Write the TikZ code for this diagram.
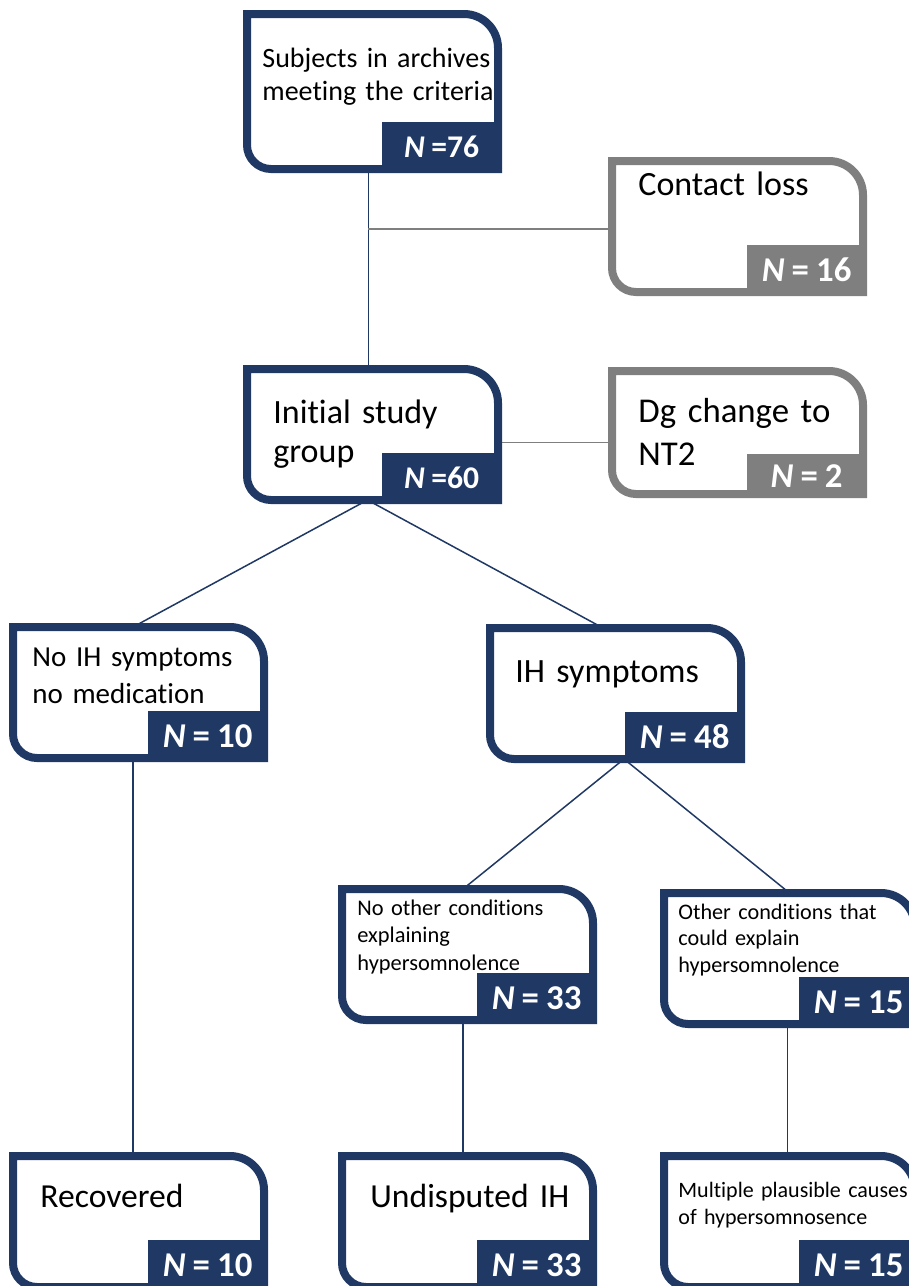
\documentclass[tikz,border=0pt]{standalone}
\usepackage{fontspec}
\setmainfont{Carlito}[Ligatures=NoCommon, WordSpace=0.9]
\definecolor{navy}{RGB}{32,56,100}
\definecolor{greyc}{RGB}{127,127,127}
\tikzset{box/.style = {rectangle, inner sep=0pt, outer sep=0pt, anchor=north west,
    minimum width=125.5pt, minimum height=65.5pt},
  boxline/.style = {line width=4pt},
  count/.style = {anchor=south east, inner sep=0pt, minimum width=60pt,
    minimum height=25.5pt, text=white, font=\bfseries\fontsize{17.4}{18}\selectfont},
  txt/.style = {anchor=base west, inner sep=0pt, text width=140pt, align=left},
  link/.style = {line width=.75pt, navy}}
\begin{document}
\begin{tikzpicture}[x=.5pt, y=-.5pt]
      \clip (0,0) rectangle (909,1286);
      \node[box, minimum height=77.5pt] (sub) at (247,14) {};
      \node[box] (loss) at (612,161) {};
      \node[box] (ini) at (247,369) {};
      \node[box, minimum height=61.5pt] (dg) at (612,371) {};
      \node[box] (noih) at (13,627) {};
      \node[box] (ih) at (490,628) {};
      \node[box] (nooth) at (342,889) {};
      \node[box] (oth) at (664,893) {};
      \node[box] (rec) at (13,1156) {};
      \node[box] (und) at (342,1156) {};
      \node[box] (mult) at (664,1156) {};
      \coordinate (split) at (368,229);
      \draw[link] ([xshift=-2pt]sub.south) -- ([xshift=-2pt]ini.north);
      \draw[link, greyc] (split) -- (split -| loss.west);
      \draw[link, greyc] ([yshift=-4pt]ini.east) -- ([yshift=-4pt]ini.east -| dg.west);
      \draw[link] ([xshift=-2.5pt]ini.south) -- ([xshift=-2.75pt]noih.north);
      \draw[link] ([xshift=-2.5pt]ini.south) -- ([xshift=-6.25pt]ih.north);
      \draw[link] ([xshift=4.25pt]ih.south) -- ([xshift=-2.25pt]nooth.north);
      \draw[link] ([xshift=4.25pt]ih.south) -- (oth.north);
      \draw[link] ([xshift=-2.75pt]noih.south) -- ([xshift=-2.75pt]rec.north);
      \draw[link] ([xshift=-2.25pt]nooth.south) -- ([xshift=-2.25pt]und.north);
      \draw[link] ([xshift=-1pt]oth.south) -- ([xshift=-1pt]mult.north);
      \foreach \b/\c in {sub/navy, ini/navy, noih/navy, ih/navy, nooth/navy, oth/navy,
          rec/navy, und/navy, mult/navy, loss/greyc, dg/greyc}
        \draw[boxline, \c] (\b.north west) -- ([xshift=-17pt]\b.north east)
          arc[start angle=90, end angle=0, radius=17pt] -- (\b.south east)
          -- ([xshift=12pt]\b.south west) arc[start angle=270, end angle=180, radius=12pt]
          -- cycle;
      \node[count, fill=navy, font=\bfseries\fontsize{15.8}{17}\selectfont] (sub-n)
        at ([xshift=2pt, yshift=-2pt]sub.south east) {\textit{N} =76};
      \node[count, fill=greyc] (loss-n) at ([xshift=2pt, yshift=-2pt]loss.south east) {\textit{N} = 16};
      \node[count, fill=navy, font=\bfseries\fontsize{15.8}{17}\selectfont] (ini-n)
        at ([xshift=2pt, yshift=-2pt]ini.south east) {\textit{N} =60};
      \node[count, fill=greyc, minimum height=22pt] (dg-n) at ([xshift=2pt, yshift=-2pt]dg.south east) {\textit{N} = 2};
      \node[count, fill=navy] (noih-n) at ([xshift=2pt, yshift=-2pt]noih.south east) {\textit{N} = 10};
      \node[count, fill=navy] (ih-n) at ([xshift=2pt, yshift=-2pt]ih.south east) {\textit{N} = 48};
      \node[count, fill=navy] (nooth-n) at ([xshift=2pt, yshift=-2pt]nooth.south east) {\textit{N} = 33};
      \node[count, fill=navy] (oth-n) at ([xshift=2pt, yshift=-2pt]oth.south east) {\textit{N} = 15};
      \node[count, fill=navy] (rec-n) at ([xshift=2pt, yshift=-2pt]rec.south east) {\textit{N} = 10};
      \node[count, fill=navy] (und-n) at ([xshift=2pt, yshift=-2pt]und.south east) {\textit{N} = 33};
      \node[count, fill=navy] (mult-n) at ([xshift=2pt, yshift=-2pt]mult.south east) {\textit{N} = 15};
      \node[txt, font=\fontsize{14}{16.5}\selectfont] (sub-t) at (262,67) {Subjects in archives\\meeting the criteria};
      \node[txt, font=\fontsize{17}{19.5}\selectfont] (loss-t) at (638,195) {Contact loss};
      \node[txt, font=\fontsize{17}{19.5}\selectfont] (ini-t) at (273,423) {Initial study\\group};
      \node[txt, font=\fontsize{17.4}{21.5}\selectfont] (dg-t) at (638,422) {Dg change to\\NT2};
      \node[txt, font=\fontsize{14.5}{18.5}\selectfont] (noih-t) at (32,666) {No IH symptoms\\no medication};
      \node[txt, font=\fontsize{17}{19.5}\selectfont] (ih-t) at (515,682) {IH symptoms};
      \node[txt, font=\fontsize{11.2}{13.75}\selectfont] (nooth-t) at (357,915) {No other conditions\\explaining\\hypersomnolence};
      \node[txt, font=\fontsize{11.1}{13.3}\selectfont] (oth-t) at (678,919) {Other conditions that\\could explain\\hypersomnolence};
      \node[txt, font=\fontsize{16.8}{19}\selectfont] (rec-t) at (40,1207) {Recovered};
      \node[txt, font=\fontsize{16.8}{19}\selectfont] (und-t) at (370,1207) {Undisputed IH};
      \node[txt, font=\fontsize{11}{13.5}\selectfont] (mult-t) at (678,1197) {Multiple plausible causes\\of hypersomnosence};
    \end{tikzpicture}
\end{document}
